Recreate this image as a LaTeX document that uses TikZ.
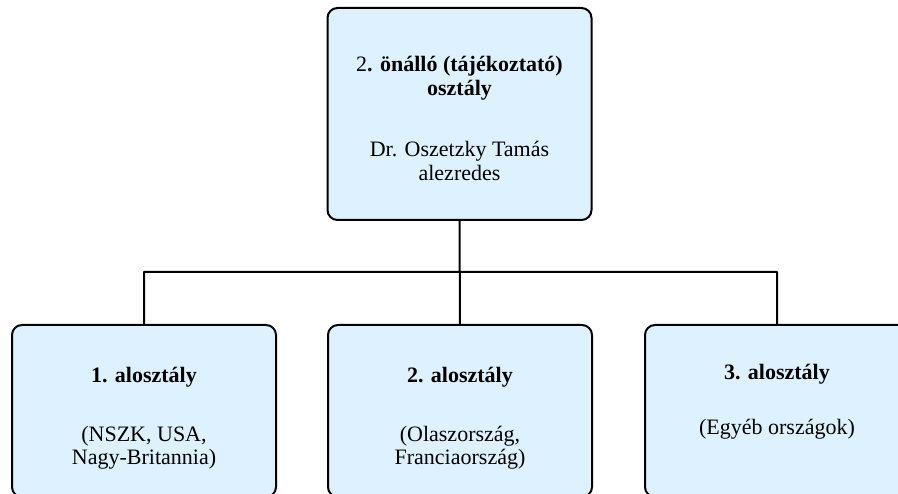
\documentclass[tikz,border=0pt]{standalone}
\usepackage{fontspec}
\setmainfont{Liberation Serif}
\definecolor{unitblue}{RGB}{221,241,254}
\begin{document}
\begin{tikzpicture}[x=1pt, y=-1pt, line join=round, line cap=round, font=\fontsize{22}{24}\selectfont,
	unit/.style={draw, line width=2pt, fill=unitblue, rounded corners=10pt, align=center, inner sep=0pt, minimum width=264pt}]
		\useasboundingbox (0,0) rectangle (898,494);
		\clip (0,0) rectangle (898,494);
		\path
		(459.5,114) coordinate (H)
		(144,411) coordinate (S1)
		++ (316,0) coordinate (S2)
		++ (317,0) coordinate (S3)
		(0,272) coordinate (bus)
		;
		\node[unit, minimum height=212pt] (head) at (H)
		{\rule{0pt}{25pt}2\textbf{. önálló (tájékoztató)}\\ \textbf{osztály}\\[37pt] Dr. Oszetzky Tamás\\ alezredes};
		\node[unit, minimum height=172pt] (sub1) at (S1)
		{\rule{0pt}{30pt}\textbf{1. alosztály}\\[35pt] (NSZK, USA,\\ Nagy-Britannia)\rule[-5pt]{0pt}{5pt}};
		\node[unit, minimum height=172pt] (sub2) at (S2)
		{\rule{0pt}{30pt}\textbf{2. alosztály}\\[35pt] (Olaszország,\\ Franciaország)\rule[-5pt]{0pt}{5pt}};
		\node[unit, minimum height=172pt] (sub3) at (S3)
		{\rule{0pt}{30pt}\textbf{3. alosztály}\\[31pt] (Egyéb országok)\rule[-37pt]{0pt}{37pt}};
		\draw[line width=2pt]
		(head.south)--(sub2.north)
		(sub1.north)|-(sub3.north |- bus)--(sub3.north)
		;
	\end{tikzpicture}
\end{document}
